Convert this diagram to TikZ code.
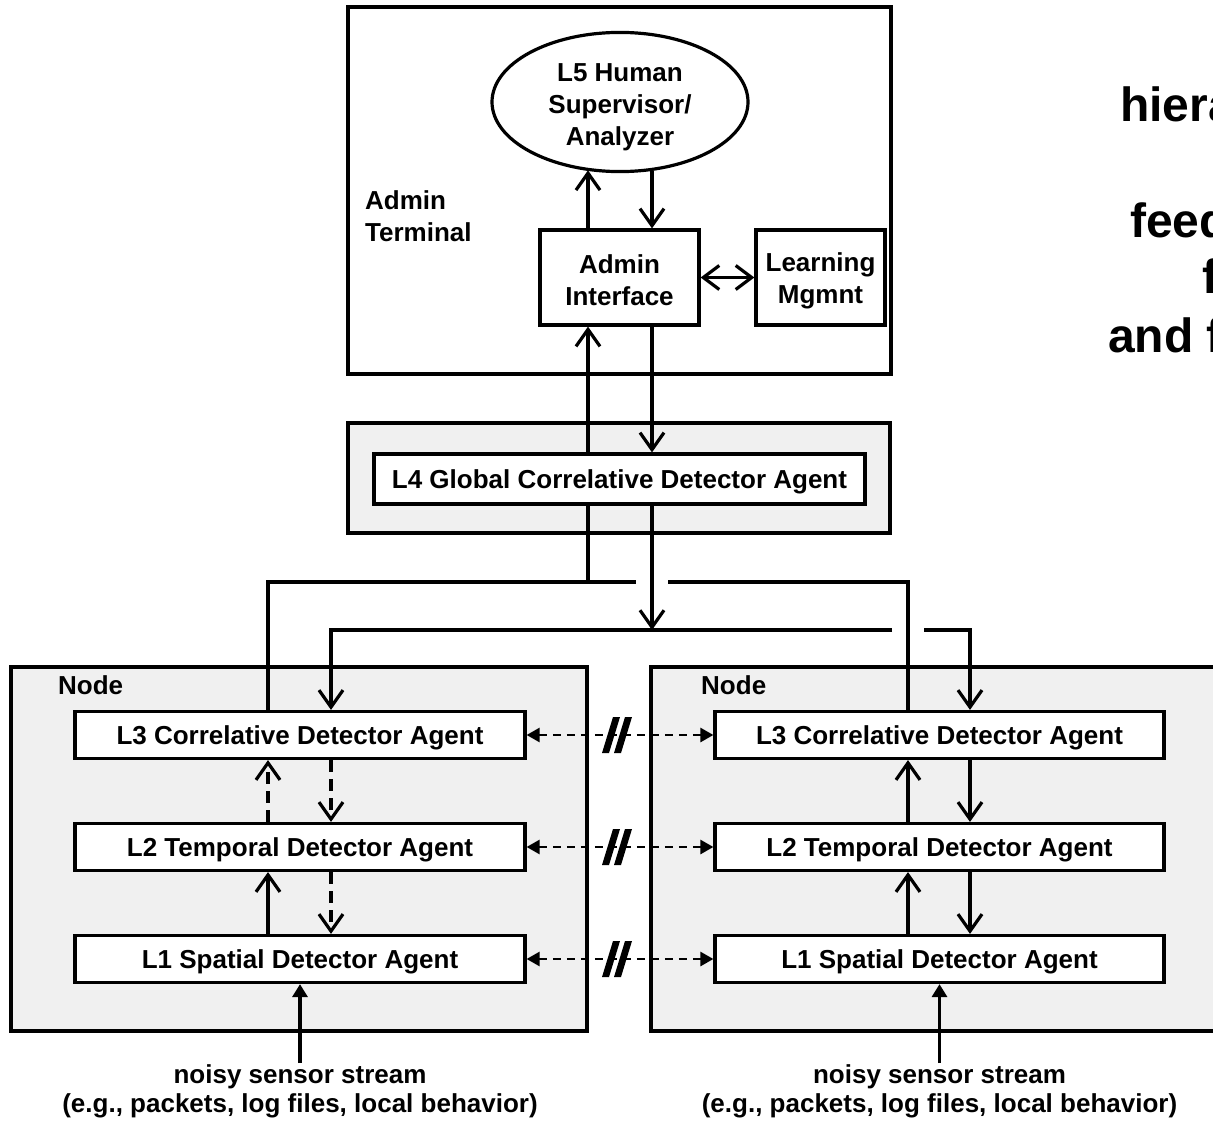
\documentclass[tikz,border=0pt]{standalone}
\usepackage{fontspec}
\setmainfont{Liberation Sans}
\usetikzlibrary{arrows.meta,shapes.geometric}
\newcommand\lblfont{\fontsize{26}{32}\selectfont\bfseries}
\newcommand\sensfont{\fontsize{26}{29}\selectfont\bfseries}
\newcommand\bigfont{\fontsize{48}{58}\selectfont\bfseries}
\definecolor{grpgray}{RGB}{240,240,240}
\begin{document}
\begin{tikzpicture}[x=1pt,y=-1pt,
  box/.style={draw,line width=3.2pt,fill=white,inner sep=0pt,align=center,font=\lblfont},
  one/.style={text height=19pt,text depth=0pt},
  grp/.style={draw,line width=3.2pt,fill=grpgray,inner sep=0pt},
  frame/.style={draw,line width=3.2pt,fill=white,inner sep=0pt},
  lbl/.style={inner sep=0pt,font=\lblfont,align=center},
  conn/.style={line width=3.2pt,-{Straight Barb[length=17pt,width=24pt]}},
  dconn/.style={conn,dash pattern=on 12pt off 7pt},
  bidir/.style={line width=3.2pt,{Straight Barb[length=16pt,width=24pt]}-{Straight Barb[length=16pt,width=24pt]}},
  wire/.style={line width=3.2pt},
  peer/.style={line width=2.6pt,dash pattern=on 8pt off 6pt,{Triangle[length=13pt,width=14pt]}-{Triangle[length=13pt,width=14pt]}},
  sense/.style={line width=3.2pt,-{Triangle[length=13pt,width=15pt]}},
  big/.style={inner sep=0pt,font=\bigfont,anchor=base west},
]
\useasboundingbox (0,0) rectangle (1213,1121);
\fill[white] (0,0) rectangle (1213,1121);

% containers
\node[frame,minimum width=543pt,minimum height=367pt] (adm) at (619.5,190.5) {};
\node[grp,minimum width=542pt,minimum height=110pt] (l4grp) at (619,478) {};
\node[grp,minimum width=576pt,minimum height=364pt] (nodeL) at (299,849) {};
\node[grp,minimum width=589pt,minimum height=364pt] (nodeR) at (945.5,849) {};

% admin terminal content
\node[lbl,align=left,anchor=west] (admlbl) at (365,216) {Admin\\Terminal};
\node[draw,line width=3.2pt,ellipse,fill=white,minimum width=256pt,minimum height=126pt,inner sep=0pt,font=\lblfont,align=center] (ell) at (620,102) {\rule{0pt}{29pt}L5 Human\\Supervisor/\\Analyzer};
\node[box,minimum width=159pt,minimum height=95pt] (ai) at (619.5,277.5) {\rule{0pt}{25pt}Admin\\Interface};
\node[box,minimum width=129pt,minimum height=95pt] (lm) at (820.5,277.5) {\rule{0pt}{26pt}Learning\\Mgmnt};

% L4
\node[box,one,minimum width=491pt,minimum height=50pt] (l4) at (619.5,479) {L4 Global Correlative Detector Agent};

% nodes
\node[lbl,anchor=west] (nlL) at (58,685) {Node};
\node[lbl,anchor=west] (nlR) at (701,685) {Node};
\node[box,one,minimum width=450pt,minimum height=47pt] (l3L) at (300,735) {L3 Correlative Detector Agent};
\node[box,one,minimum width=450pt,minimum height=47pt] (l2L) at (300,847) {L2 Temporal Detector Agent};
\node[box,one,minimum width=450pt,minimum height=47pt] (l1L) at (300,959) {L1 Spatial Detector Agent};
\node[box,one,minimum width=449pt,minimum height=47pt] (l3R) at (939.5,735) {L3 Correlative Detector Agent};
\node[box,one,minimum width=449pt,minimum height=47pt] (l2R) at (939.5,847) {L2 Temporal Detector Agent};
\node[box,one,minimum width=449pt,minimum height=47pt] (l1R) at (939.5,959) {L1 Spatial Detector Agent};

% sensor labels
\node[inner sep=1pt,font=\sensfont,align=center,anchor=north] (sensL) at (300,1063) {noisy sensor stream\\(e.g., packets, log files, local behavior)};
\node[inner sep=1pt,font=\sensfont,align=center,anchor=north] (sensR) at (939.5,1063) {noisy sensor stream\\(e.g., packets, log files, local behavior)};

% right-hand text, cut by the picture's edge as in the reference
\node[big] (t1) at (1120,122) {hiera};
\node[big] (t2) at (1130,237) {feed};
\node[big] (t3) at (1202,293) {f};
\node[big] (t4) at (1108,352) {and f};

% helper coordinates
\coordinate (xu) at (588,0);
\coordinate (xd) at (652,0);
\coordinate (xLu) at (268,0);
\coordinate (xLd) at (331,0);
\coordinate (xRu) at (908,0);
\coordinate (xRd) at (970,0);
\coordinate (g1a) at (636,582);
\coordinate (g1b) at (668,582);
\coordinate (g2a) at (892,630);
\coordinate (g2b) at (924,630);

% admin terminal connectors
\draw[conn] (ai.north -| xu) -- (xu |- ell.242.3);
\draw[conn] (xd |- ell.297.7) -- (ai.north -| xd);
\draw[bidir] (ai.east) -- (lm.west);
\draw[conn] (l4.north -| xu) -- (ai.south -| xu);
\draw[conn] (ai.south -| xd) -- (l4.north -| xd);

% upper bus (L3 -> L4)
\draw[wire] (l3L.north -| xLu) |- (g1a);
\draw[wire] (g1b) -| (l3R.north -| xRu);
\draw[wire] (l4.south -| xu) -- (xu |- g1a);

% lower bus (L4 -> L3)
\draw[conn] (l4.south -| xd) -- (xd |- g2a);
\draw[conn] (g2a) -| (l3L.north -| xLd);
\draw[conn] (g2b) -| (l3R.north -| xRd);

% left node internal
\draw[dconn] (l2L.north -| xLu) -- (l3L.south -| xLu);
\draw[dconn] (l3L.south -| xLd) -- (l2L.north -| xLd);
\draw[conn] (l1L.north -| xLu) -- (l2L.south -| xLu);
\draw[dconn] (l2L.south -| xLd) -- (l1L.north -| xLd);

% right node internal
\draw[conn] (l2R.north -| xRu) -- (l3R.south -| xRu);
\draw[conn] (l3R.south -| xRd) -- (l2R.north -| xRd);
\draw[conn] (l1R.north -| xRu) -- (l2R.south -| xRu);
\draw[conn] (l2R.south -| xRd) -- (l1R.north -| xRd);

% peer links
\foreach \a/\b in {l3L/l3R,l2L/l2R,l1L/l1R}{
  \draw[peer] (\a.east) -- (\b.west) coordinate[pos=0.5] (m);
  \fill ([shift={(-18,18)}]m) -- ([shift={(-11,18)}]m) -- ([shift={(0,-18)}]m) -- ([shift={(-7,-18)}]m) -- cycle;
  \fill ([shift={(-6,18)}]m) -- ([shift={(1,18)}]m) -- ([shift={(12,-18)}]m) -- ([shift={(5,-18)}]m) -- cycle;
}

% sensor inputs
\draw[sense] (sensL.north) -- (l1L.south);
\draw[sense] (sensR.north) -- (l1R.south);
\end{tikzpicture}
\end{document}
